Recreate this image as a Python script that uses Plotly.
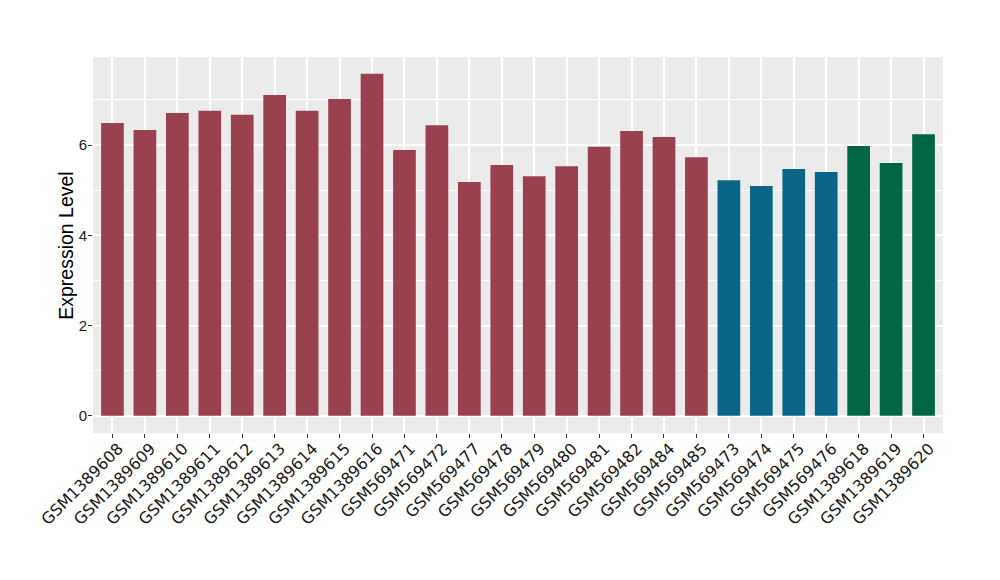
import plotly.graph_objects as go

samples = ["GSM1389608", "GSM1389609", "GSM1389610", "GSM1389611", "GSM1389612",
           "GSM1389613", "GSM1389614", "GSM1389615", "GSM1389616", "GSM569471",
           "GSM569472", "GSM569477", "GSM569478", "GSM569479", "GSM569480",
           "GSM569481", "GSM569482", "GSM569484", "GSM569485", "GSM569473",
           "GSM569474", "GSM569475", "GSM569476", "GSM1389618", "GSM1389619",
           "GSM1389620"]
values = [6.49, 6.33, 6.71, 6.76, 6.67, 7.11, 6.76, 7.02, 7.58, 5.89,
          6.44, 5.18, 5.56, 5.31, 5.53, 5.96, 6.31, 6.18, 5.73, 5.22,
          5.09, 5.47, 5.40, 5.98, 5.60, 6.24]
groups = ["A"] * 19 + ["B"] * 4 + ["C"] * 3
group_colors = {"A": "#9A4150", "B": "#0A6587", "C": "#006643"}
y_title = "Expression Level"

colors = [group_colors[g] for g in groups]

fig = go.Figure(go.Bar(
    x=samples, y=values, marker_color=colors, marker_line_width=0,
    width=0.7, showlegend=False,
))

fig.update_layout(
    width=1000, height=580,
    margin=dict(l=85, r=65, t=49, b=155, autoexpand=False),
    paper_bgcolor="white", plot_bgcolor="#EBEBEB",
    font=dict(family="Liberation Sans, Arial, sans-serif", color="#1a1a1a"),
    annotations=[dict(
        text=y_title, xref="paper", yref="paper", x=-0.032, y=0.5,
        xanchor="center", yanchor="middle", textangle=-90, showarrow=False,
        font=dict(size=19.5, color="black"),
    )],
)
fig.update_xaxes(
    range=[-0.6, 25.6], tickangle=-45, automargin=False,
    tickfont=dict(size=16, color="#1a1a1a", family="DejaVu Sans, Verdana, sans-serif"),
    ticklabelshift=6, ticklabelstandoff=-5,
    showgrid=True, gridcolor="white", gridwidth=1.5,
    ticks="outside", ticklen=4, tickcolor="#333333", tickwidth=1,
    zeroline=False, showline=False,
)
fig.update_yaxes(
    range=[-0.38, 7.95], tick0=0, dtick=2, automargin=False,
    tickfont=dict(size=15, color="#1a1a1a"),
    ticklabelstandoff=-2,
    showgrid=True, gridcolor="white", gridwidth=1.5,
    minor=dict(dtick=1, tick0=0, showgrid=True, gridcolor="white", gridwidth=0.7),
    ticks="outside", ticklen=4, tickcolor="#333333", tickwidth=1,
    zeroline=False, showline=False,
)

fig.write_html("out.html")
